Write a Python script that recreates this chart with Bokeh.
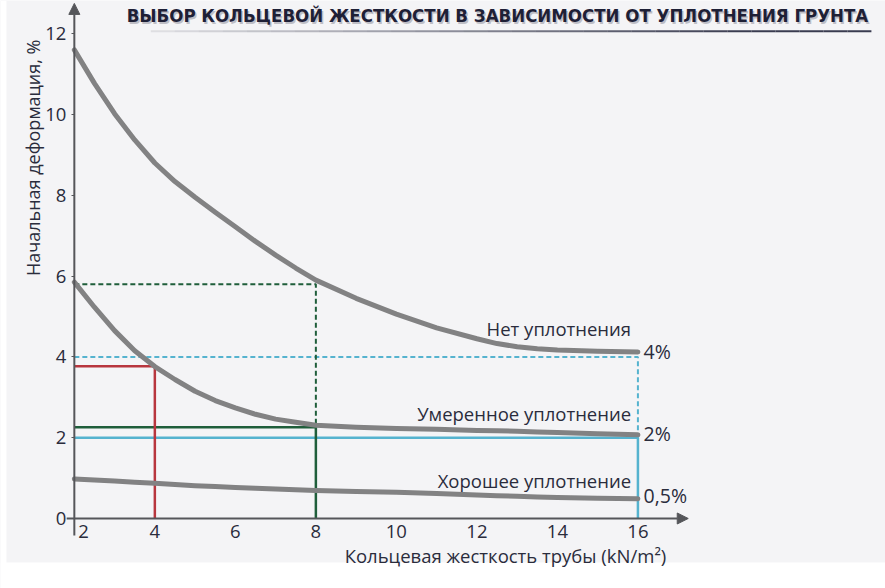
from bokeh.plotting import figure
from bokeh.models import Range1d, Label, Arrow, NormalHead, FixedTicker, BoxAnnotation
from bokeh.embed import file_html
from bokeh.resources import INLINE

# ---- data ----
stiffness = [2, 2.5, 3, 3.5, 4, 4.5, 5, 5.5, 6, 6.5, 7, 7.5, 8, 9, 10, 11, 12, 12.5, 13, 13.5, 14, 15, 16]
no_compaction = [11.60, 10.77, 10.02, 9.37, 8.80, 8.34, 7.95, 7.58, 7.22, 6.86, 6.52, 6.20, 5.90,
                 5.45, 5.06, 4.72, 4.45, 4.33, 4.25, 4.20, 4.17, 4.14, 4.12]
moderate_compaction = [5.85, 5.23, 4.65, 4.15, 3.76, 3.44, 3.15, 2.92, 2.74, 2.58, 2.46, 2.38, 2.31,
                       2.26, 2.23, 2.21, 2.18, 2.17, 2.16, 2.14, 2.13, 2.10, 2.07]
good_compaction = [0.98, 0.95, 0.93, 0.90, 0.87, 0.84, 0.81, 0.79, 0.77, 0.75, 0.73, 0.71, 0.69,
                   0.67, 0.65, 0.62, 0.58, 0.565, 0.55, 0.535, 0.52, 0.50, 0.49]

x_ticks = [2, 4, 6, 8, 10, 12, 14, 16]
y_ticks = [0, 2, 4, 6, 8, 10, 12]

curve_names = ["Нет уплотнения", "Умеренное уплотнение", "Хорошее уплотнение"]
limit_labels = ["4%", "2%", "0,5%"]
limit_values = [4.0, 2.0, 0.5]

# example selections
pick_red = (4, 3.77)          # SN4, moderate compaction
pick_green_none = (8, 5.80)   # SN8, no compaction
pick_green_mod = (8, 2.26)    # SN8, moderate compaction
max_sn = 16

title_text = "ВЫБОР КОЛЬЦЕВОЙ ЖЕСТКОСТИ В ЗАВИСИМОСТИ ОТ УПЛОТНЕНИЯ ГРУНТА"
x_title = "Кольцевая жесткость трубы (kN/m²)"
y_title = "Начальная деформация, %"

# ---- styling ----
BG = "#f4f4f6"
TXT = "#2a2c3c"
GREY = "#828283"
GREEN = "#1f5e3b"
RED = "#b8363e"
CYAN = "#55b3cf"
AXIS = "#55565a"
FONT = "Open Sans"

p = figure(width=885, height=588,
           x_range=Range1d(0.166, 22.15), y_range=Range1d(-1.733, 12.822),
           output_backend="svg", toolbar_location=None,
           min_border_left=0, min_border_right=0, min_border_top=0, min_border_bottom=0,
           background_fill_color=BG, border_fill_color=BG)
p.outline_line_color = None
p.grid.visible = False

# white page edges
p.add_layout(BoxAnnotation(top=-1.089, fill_color="white", fill_alpha=1, line_color=None, level="underlay"))
p.add_layout(BoxAnnotation(right=0.315, fill_color="white", fill_alpha=1, line_color=None, level="underlay"))

p.xaxis.fixed_location = 0
p.yaxis.fixed_location = 2
p.xaxis.ticker = FixedTicker(ticks=x_ticks)
p.yaxis.ticker = FixedTicker(ticks=y_ticks)
p.xaxis.major_label_overrides = {2: "\u2002\u20022"}
for ax in (p.xaxis, p.yaxis):
    ax.axis_line_color = None
    ax.major_label_text_font = FONT
    ax.major_label_text_font_size = "18.5px"
    ax.major_label_text_color = TXT
    ax.minor_tick_line_color = None
p.xaxis.major_tick_line_color = None
p.xaxis.major_tick_out = 0
p.xaxis.major_tick_in = 0
p.xaxis.major_label_standoff = 0
p.yaxis.major_tick_line_color = AXIS
p.yaxis.major_tick_in = 0
p.yaxis.major_tick_out = 3
p.yaxis.major_label_standoff = 5

# ---- reference (selection) lines ----
p.line([2, max_sn, max_sn], [limit_values[0], limit_values[0], limit_values[1]],
       line_color=CYAN, line_width=2, line_dash="5 3")
p.line([2, max_sn, max_sn], [limit_values[1], limit_values[1], 0],
       line_color=CYAN, line_width=2.5)
p.line([2, pick_green_none[0], pick_green_none[0]],
       [pick_green_none[1], pick_green_none[1], pick_green_mod[1]],
       line_color=GREEN, line_width=2, line_dash="5 3")
p.line([2, pick_green_mod[0], pick_green_mod[0]],
       [pick_green_mod[1], pick_green_mod[1], 0],
       line_color=GREEN, line_width=2.5)
p.line([2, pick_red[0], pick_red[0]], [pick_red[1], pick_red[1], 0],
       line_color=RED, line_width=2.5)

# ---- curves ----
for ys in (no_compaction, moderate_compaction, good_compaction):
    p.line(stiffness, ys, line_color=GREY, line_width=5, line_cap="round", line_join="round")

# ---- axes lines with arrows ----
p.add_layout(Arrow(x_start=1.81, y_start=0, x_end=17.25, y_end=0,
                   line_color=AXIS, line_width=2,
                   end=NormalHead(size=11, fill_color=AXIS, line_color=AXIS)))
p.add_layout(Arrow(x_start=2, y_start=-0.42, x_end=2, y_end=12.75,
                   line_color=AXIS, line_width=2,
                   end=NormalHead(size=11, fill_color=AXIS, line_color=AXIS)))

# ---- curve labels ----
label_y = [4.70, 2.60, 0.94]
for name, ly in zip(curve_names, label_y):
    p.add_layout(Label(x=15.83, y=ly, text=name, text_align="right", text_baseline="middle",
                       text_font=FONT, text_font_size="18.5px", text_color=TXT))
end_y = [4.13, 2.11, 0.57]
for lab, ly in zip(limit_labels, end_y):
    p.add_layout(Label(x=16.14, y=ly, text=lab, text_align="left", text_baseline="middle",
                       text_font=FONT, text_font_size="19.5px", text_color=TXT))

# ---- axis titles ----
p.add_layout(Label(x=12.71, y=-0.92, text=x_title, text_align="center", text_baseline="middle",
                   text_font=FONT, text_font_size="18.5px", text_color=TXT))
p.add_layout(Label(x=0.98, y=8.93, text=y_title, text_align="center", text_baseline="middle",
                   angle=90, angle_units="deg",
                   text_font=FONT, text_font_size="18px", text_color=TXT))

# ---- title with shadow and underline ----
TFONT = "'DejaVu Sans Condensed', 'DejaVu Sans', sans-serif"
p.add_layout(Label(x=12.51, y=12.45, text=title_text, text_align="center", text_baseline="middle",
                   x_offset=1.5, y_offset=-2, text_font=TFONT, text_font_style="bold",
                   text_font_size="18.5px", text_color="#9a9aa4", text_alpha=0.6))
p.add_layout(Label(x=12.51, y=12.45, text=title_text, text_align="center", text_baseline="middle",
                   text_font=TFONT, text_font_style="bold",
                   text_font_size="18.5px", text_color="#1e2036"))
# gradient underline (fades to the left)
n_seg = 30
u0, u1 = 3.9, 21.8
for i in range(n_seg):
    a0 = u0 + (u1 - u0) * i / n_seg
    a1 = u0 + (u1 - u0) * (i + 1) / n_seg
    p.line([a0, a1], [12.06, 12.06], line_color="#3a3c50", line_width=2,
           line_alpha=min(1.0, 0.08 + 1.1 * (i + 1) / n_seg))

open("out.html", "w").write(file_html(p, INLINE))
